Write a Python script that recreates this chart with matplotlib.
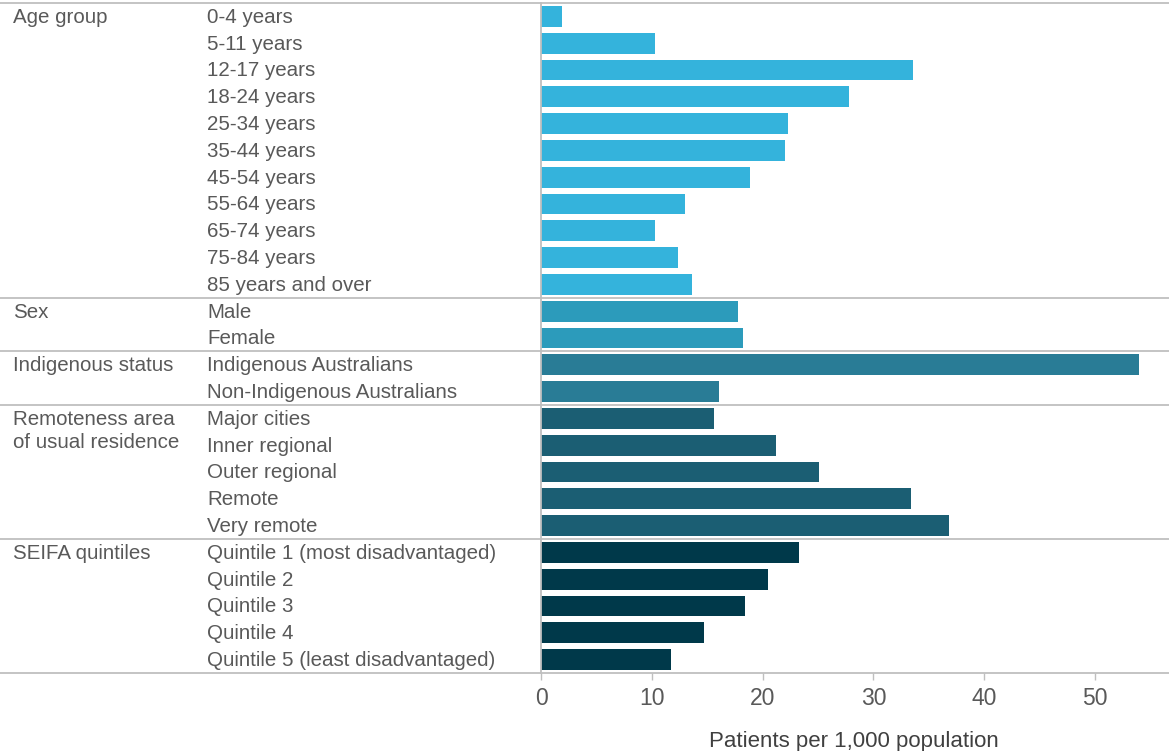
import matplotlib
matplotlib.use("Agg")
import matplotlib.pyplot as plt
from matplotlib.transforms import blended_transform_factory

plt.rcParams['font.family'] = ['Liberation Sans', 'DejaVu Sans']

groups = ["Age group", "Sex", "Indigenous status", "Remoteness area\nof usual residence", "SEIFA quintiles"]
age_cats = ["0-4 years", "5-11 years", "12-17 years", "18-24 years", "25-34 years", "35-44 years",
            "45-54 years", "55-64 years", "65-74 years", "75-84 years", "85 years and over"]
age_vals = [1.9, 10.3, 33.6, 27.8, 22.3, 22.0, 18.9, 13.0, 10.3, 12.4, 13.6]
sex_cats = ["Male", "Female"]
sex_vals = [17.8, 18.2]
ind_cats = ["Indigenous Australians", "Non-Indigenous Australians"]
ind_vals = [54.0, 16.1]
rem_cats = ["Major cities", "Inner regional", "Outer regional", "Remote", "Very remote"]
rem_vals = [15.6, 21.2, 25.1, 33.4, 36.8]
seifa_cats = ["Quintile 1 (most disadvantaged)", "Quintile 2", "Quintile 3", "Quintile 4",
              "Quintile 5 (least disadvantaged)"]
seifa_vals = [23.3, 20.5, 18.4, 14.7, 11.7]
colors = ["#34B3DC", "#2C9BBB", "#297C96", "#1B5E73", "#00394A"]
xticks = [0, 10, 20, 30, 40, 50]

W, H = 1169, 751
fig = plt.figure(figsize=(W / 100, H / 100), dpi=100)
ax = fig.add_axes([541 / W, 1 - 673 / H, (W - 541) / W, (673 - 3) / H])

all_groups = [(groups[0], age_cats, age_vals), (groups[1], sex_cats, sex_vals),
              (groups[2], ind_cats, ind_vals), (groups[3], rem_cats, rem_vals),
              (groups[4], seifa_cats, seifa_vals)]
n = sum(len(c) for _, c, _ in all_groups)
tr = blended_transform_factory(fig.transFigure, ax.transData)
txtcol = "#595959"
linecol = "#BFBFBF"
fs = 14.8
row = 0
for gi, (g, cats, vals) in enumerate(all_groups):
    ys = [row + i for i in range(len(cats))]
    ax.barh(ys, vals, height=0.78, color=colors[gi], zorder=2)
    for k, line in enumerate(g.split("\n")):
        ax.text(13 / W, ys[0] + 0.03 + k * 0.86, line, transform=tr, ha="left", va="center",
                fontsize=fs, color=txtcol)
    for y, c in zip(ys, cats):
        ax.text(207 / W, y + 0.03, c, transform=tr, ha="left", va="center", fontsize=fs, color=txtcol)
    ax.plot([0, 1], [row - 0.5, row - 0.5], transform=tr, color=linecol, lw=1.3,
            clip_on=False, zorder=3)
    row += len(cats)
ax.plot([0, 1], [row - 0.5, row - 0.5], transform=tr, color=linecol, lw=1.3, clip_on=False, zorder=3)

ax.set_ylim(n - 0.5, -0.5)
ax.set_xlim(0, (W - 541) / 11.08)
for s in ["top", "right", "bottom"]:
    ax.spines[s].set_visible(False)
ax.spines["left"].set_color(linecol)
ax.spines["left"].set_linewidth(1.3)
ax.set_yticks([])
ax.set_xticks(xticks)
ax.tick_params(axis="x", length=5, width=1, color=linecol, labelsize=16.5, labelcolor=txtcol, pad=5)
ax.set_xlabel("Patients per 1,000 population", fontsize=16, color="#404040")
ax.xaxis.set_label_coords((854 - 541) / (W - 541), -0.087)

fig.savefig("out.png", dpi=100)
